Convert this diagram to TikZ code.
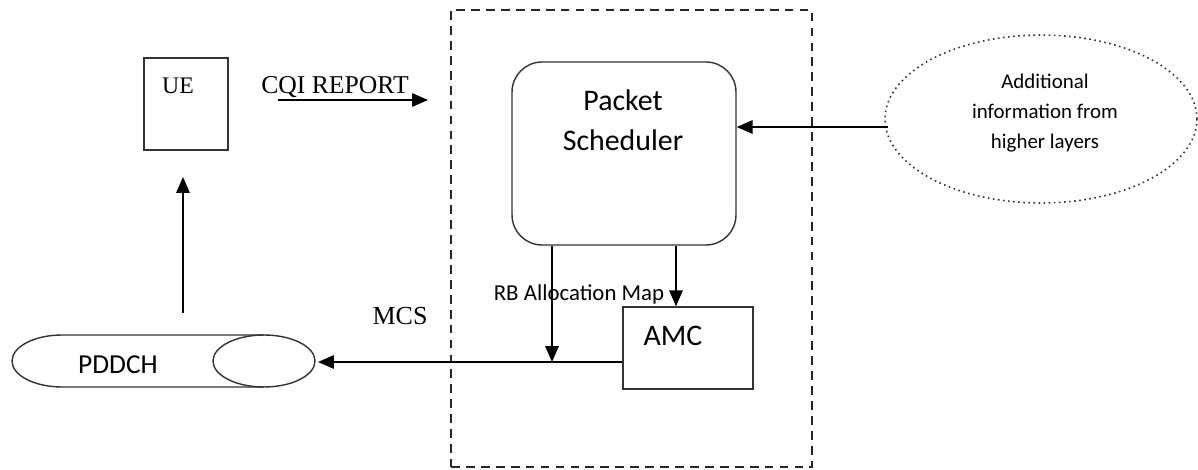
\documentclass[tikz,border=0pt]{standalone}
\usepackage{fontspec}
\setmainfont{Liberation Serif}
\newfontfamily\calib{Carlito}
\usetikzlibrary{arrows.meta,shapes.geometric}
\begin{document}
\begin{tikzpicture}[x=0.02cm,y=-0.02cm,
  box/.style={draw=black!80,line width=0.8pt,inner sep=0pt},
  arr/.style={-{Triangle[length=0.32cm,width=0.27cm]},line width=0.9pt},
  ln/.style={line width=0.9pt},
  txt/.style={inner sep=0pt,align=center}]
\useasboundingbox (0,0) rectangle (1198,470);
% dashed eNB box
\node[draw=black!85,line width=1.1pt,dash pattern=on 5pt off 3.5pt,minimum width=7.22cm,minimum height=9.14cm,inner sep=0pt] (enb) at (631.5,238.5) {};
% UE
\node[box,minimum width=1.68cm,minimum height=1.84cm] (ue) at (186,104) {};
\node[txt,font=\fontsize{13.5}{15}\selectfont] (uet) at (178,86) {UE};
% CQI report
\node[txt,font=\fontsize{14.6}{17}\selectfont] (cqi) at (335,87) {CQI REPORT};
\coordinate (cqiA) at (278,100);
\coordinate (cqiB) at (428,100);
\draw[arr] (cqiA) -- (cqiB);
% Packet scheduler
\node[box,rounded corners=0.6cm,minimum width=4.48cm,minimum height=3.66cm] (ps) at (624,153.5) {};
\node[txt,font=\calib\fontsize{17}{22.7}\selectfont] (pst) at (623,120) {Packet\\Scheduler};
% Additional info ellipse
\node[ellipse,draw=black!80,dotted,line width=0.9pt,minimum width=6.24cm,minimum height=3.36cm,inner sep=0pt] (info) at (1041,119) {};
\node[txt,font=\calib\fontsize{11.9}{17}\selectfont] (infot) at (1045,113) {Additional\\information from\\higher layers};
\coordinate (infoL) at (888,127);
\draw[arr] (infoL) -- (ps.east |- infoL);
% AMC
\node[box,minimum width=2.6cm,minimum height=1.64cm] (amc) at (688,348) {};
\node[txt,font=\calib\fontsize{17}{20}\selectfont] (amct) at (673,336) {AMC};
\draw[arr] (ps.south -| amc.north) ++(-12,0) coordinate (psB) -- (psB |- amc.north);
% RB allocation map
\node[txt,font=\calib\fontsize{13}{16}\selectfont] (rb) at (579,294) {RB Allocation Map};
\coordinate (junc) at (552,362);
\draw[arr] (ps.south -| junc) -- (junc);
% PDDCH cylinder
\coordinate (pdR) at (318,362);
\draw[ln] (amc.west |- junc) -- (junc);
\draw[arr] (junc) -- (pdR);
\draw[black!80,line width=0.8pt] (264,335) -- (62,335) arc[start angle=90,end angle=270,x radius=1cm,y radius=0.52cm] -- (264,387);
\draw[black!80,line width=0.8pt] (264,361) ellipse[x radius=1.02cm,y radius=0.52cm];
\node[txt,font=\calib\fontsize{15.6}{18}\selectfont] (pddch) at (118,365) {PDDCH};
% MCS
\node[txt,font=\fontsize{14.8}{17}\selectfont] (mcs) at (400,316) {MCS};
% arrow up to UE
\coordinate (upA) at (183,313);
\draw[arr] (upA) -- (183,177);
\end{tikzpicture}
\end{document}
